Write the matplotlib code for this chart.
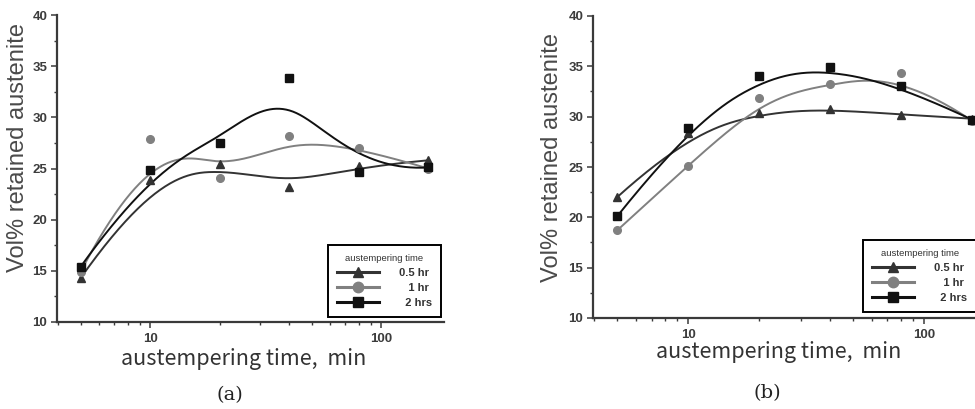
import numpy as np
import matplotlib

matplotlib.use("Agg")
import matplotlib.pyplot as plt
from matplotlib.ticker import FixedLocator, FuncFormatter, LogLocator, MultipleLocator, NullFormatter


times = [5, 10, 20, 40, 80, 160]
series_labels = ["0.5 hr", "   1 hr", "  2 hrs"]

# panel (a)
a_half_hr = [14.3, 23.9, 25.4, 23.2, 25.2, 25.8]
a_one_hr = [14.9, 27.9, 24.1, 28.2, 27.0, 25.0]
a_two_hrs = [15.4, 24.85, 27.5, 33.8, 24.7, 25.1]

# panel (b)
b_half_hr = [22.0, 28.35, 30.4, 30.8, 30.2, 29.8]
b_one_hr = [18.7, 25.1, 31.85, 33.2, 34.3, 29.6]
b_two_hrs = [20.1, 28.9, 34.0, 34.9, 33.0, 29.7]

MARKERS = ["^", "o", "s"]
COLORS = ["#333333", "#808080", "#111111"]
SANS = ["Liberation Sans", "DejaVu Sans"]
XLAB = ["Noto Sans CJK KR", "DejaVu Sans"]

plt.rcParams["font.family"] = SANS


def bspline_curve(x, y, k=3, num=300):
    # clamped cubic B-spline with the data points as control points (log-x space)
    lx = np.log10(np.asarray(x, dtype=float))
    yy = np.asarray(y, dtype=float)
    m = len(lx)
    knots = np.r_[np.zeros(k), np.arange(m - k + 1), np.full(k, m - k)].astype(float)
    t = np.linspace(0, m - k, num)
    t[-1] -= 1e-9
    basis = ((knots[:-1] <= t[:, None]) & (t[:, None] < knots[1:])).astype(float)
    for d in range(1, k + 1):
        new = np.zeros((num, len(knots) - 1 - d))
        for i in range(len(knots) - 1 - d):
            a = knots[i + d] - knots[i]
            b = knots[i + d + 1] - knots[i + 1]
            if a > 0:
                new[:, i] += (t - knots[i]) / a * basis[:, i]
            if b > 0:
                new[:, i] += (knots[i + d + 1] - t) / b * basis[:, i + 1]
        basis = new
    return 10 ** (basis @ lx), basis @ yy


def draw_panel(ax, data, legend_anchor, legend_loc, ylabel_xy, xlabel_xy):
    for values, marker, color, label in zip(data, MARKERS, COLORS, series_labels):
        cx, cy = bspline_curve(times, values)
        ax.plot(cx, cy, color=color, lw=1.4, zorder=2)
        ax.plot(times, values, ls="none", marker=marker, color=color, ms=5.5, zorder=3)
        ax.plot([], [], color=color, lw=2.2, marker=marker, ms=7.5, label=label)

    ax.set_xscale("log")
    ax.set_xlim(3.95, 187)
    ax.set_ylim(10, 40)
    ax.yaxis.set_major_locator(MultipleLocator(5))
    ax.yaxis.set_minor_locator(MultipleLocator(2.5))
    ax.xaxis.set_major_locator(FixedLocator([10, 100]))
    ax.xaxis.set_minor_locator(LogLocator(base=10, subs=np.arange(2, 10)))
    ax.xaxis.set_major_formatter(FuncFormatter(lambda v, p: f"{v:g}"))
    ax.xaxis.set_minor_formatter(NullFormatter())

    for side in ("top", "right"):
        ax.spines[side].set_visible(False)
    for side in ("left", "bottom"):
        ax.spines[side].set_linewidth(1.6)
        ax.spines[side].set_color("#3a3a3a")
    ax.tick_params(which="major", length=4, width=1.1, color="#3a3a3a",
                   labelsize=9.5, labelcolor="#3c3c3c")
    ax.tick_params(axis="x", which="major", pad=4)
    ax.tick_params(axis="y", which="major", pad=3)
    ax.tick_params(which="minor", length=2.5, width=1.0, color="#3a3a3a")
    for lab in ax.get_xticklabels() + ax.get_yticklabels():
        lab.set_fontweight("bold")

    ax.set_ylabel("Vol% retained austenite", fontsize=17, color="#4a4a4a")
    ax.yaxis.label.set_va("center")
    ax.yaxis.set_label_coords(*ylabel_xy)
    ax.set_xlabel("austempering time,  min", fontsize=15.5, color="#333333", family=XLAB)
    ax.xaxis.label.set_va("center")
    ax.xaxis.set_label_coords(*xlabel_xy)

    leg = ax.legend(title="austempering time", loc=legend_loc, bbox_to_anchor=legend_anchor,
                    prop={"size": 8, "weight": "bold"},
                    title_fontsize=6.8, frameon=True, fancybox=False,
                    framealpha=1, edgecolor="black", handlelength=3.8,
                    handletextpad=1.8, labelspacing=0.45, borderpad=0.8,
                    borderaxespad=0)
    leg.get_frame().set_linewidth(1.4)
    for txt in leg.get_texts():
        txt.set_color("#333333")
    leg.get_title().set_color("#333333")
    leg.set_zorder(5)


fig = plt.figure(figsize=(9.75, 4.09), dpi=100)
ax_a = fig.add_axes([57 / 975, 87 / 409, 387 / 975, 307 / 409])
ax_b = fig.add_axes([593 / 975, 91 / 409, 395 / 975, 302 / 409])

draw_panel(ax_a, [a_half_hr, a_one_hr, a_two_hrs], (0.992, 0.016), "lower right",
           (-0.10, 0.567), (0.483, -0.12))
draw_panel(ax_b, [b_half_hr, b_one_hr, b_two_hrs], (0.684, 0.02), "lower left",
           (-0.104, 0.53), (0.471, -0.113))

fig.text(230 / 975, 1 - 395 / 409, "(a)", ha="center", va="center", fontsize=14,
         family="DejaVu Serif", color="#222222")
fig.text(767 / 975, 1 - 393 / 409, "(b)", ha="center", va="center", fontsize=14,
         family="DejaVu Serif", color="#222222")

fig.savefig("out.png", dpi=100)
